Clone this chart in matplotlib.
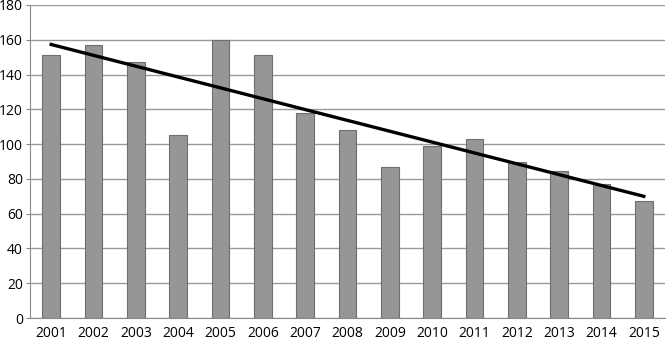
import numpy as np
import matplotlib.pyplot as plt

years = ["2001", "2002", "2003", "2004", "2005", "2006", "2007", "2008",
         "2009", "2010", "2011", "2012", "2013", "2014", "2015"]
values = [151, 157, 147, 105, 160, 151, 118, 108, 87, 99, 103, 90, 84.5, 77, 67]

plt.rcParams['font.family'] = ['Open Sans', 'DejaVu Sans']

fig = plt.figure(figsize=(6.66, 3.40), dpi=100)
ax = fig.add_axes([30 / 666, 22 / 340, 635 / 666, 313 / 340])

x = np.arange(len(years))
ax.bar(x, values, width=0.41, color='#969696', edgecolor='#6e6e6e',
       linewidth=0.8, zorder=2)

# linear trend line
k, b = np.polyfit(x, values, 1)
ax.plot(x, k * x + b, color='black', linewidth=2.4, zorder=3)

ax.set_xlim(-0.5, len(years) - 0.5)
ax.set_ylim(0, 180)
ax.set_yticks(np.arange(0, 181, 20))
ax.set_xticks(x)
ax.set_xticklabels(years)
ax.grid(axis='y', color='#9a9a9a', linewidth=1.0, zorder=1)
ax.set_axisbelow(True)

for s in ['top', 'right']:
    ax.spines[s].set_visible(False)
ax.spines['left'].set_color('#8a8a8a')
ax.spines['bottom'].set_color('#8a8a8a')
ax.tick_params(axis='y', length=3, color='#8a8a8a', labelsize=10, pad=2)
ax.tick_params(axis='x', length=0, labelsize=10, pad=6)

fig.savefig('out.png', dpi=100)
